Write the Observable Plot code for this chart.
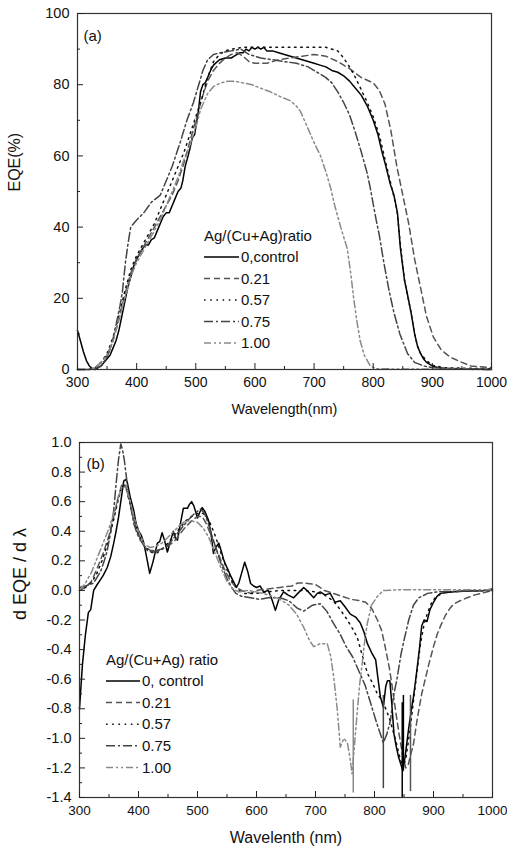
<!DOCTYPE html>
<html><head><meta charset="utf-8">
<script src="https://cdn.jsdelivr.net/npm/d3@7"></script>
<script src="https://cdn.jsdelivr.net/npm/@observablehq/plot@0.6"></script>
<style>
body{margin:0;background:#fff;}
#wrap{width:507px;}
#wrap svg{display:block;}
</style></head><body><div id="wrap"></div>
<script>
// ---------- DATA ----------
const seriesNames = ["0,control", "0.21", "0.57", "0.75", "1.00"];
const seriesNamesB = ["0, control", "0.21", "0.57", "0.75", "1.00"];
const legendTitleA = "Ag/(Cu+Ag)ratio";
const legendTitleB = "Ag/(Cu+Ag) ratio";
const xTicks = [300, 400, 500, 600, 700, 800, 900, 1000];
const xMinor = [350, 450, 550, 650, 750, 850, 950];
const yTicksA = [0, 20, 40, 60, 80, 100];
const yMinorA = [10, 30, 50, 70, 90];
const yTicksB = [-1.4, -1.2, -1.0, -0.8, -0.6, -0.4, -0.2, 0.0, 0.2, 0.4, 0.6, 0.8, 1.0];
const yMinorB = [-1.3, -1.1, -0.9, -0.7, -0.5, -0.3, -0.1, 0.1, 0.3, 0.5, 0.7, 0.9];

// (a) EQE (%) vs wavelength (nm)
const eqeControl = [[300,11],[305,8],[310,5],[315,2.5],[320,1],[325,0.2],[330,0],[335,0.5],[340,1],[345,2],[350,3],[355,4],[360,6],[365,8],[370,11],[375,15],[380,19],[385,23],[390,26],[395,29],[400,31],[405,32.5],[410,34],[415,35],[420,35],[425,36.5],[430,37],[435,39],[440,41],[445,43],[450,44],[455,44],[460,46],[465,48],[470,50],[475,51],[478,53],[482,57],[487,60],[490,62],[494,65],[498,66],[500,68],[504,72],[508,78],[512,80],[516,80.5],[520,82],[525,84],[530,85.5],[540,87],[550,87.5],[560,87.5],[565,88],[570,88.5],[575,89],[580,89],[585,90],[590,89.5],[595,90.5],[600,90],[605,90.5],[610,90],[615,90.5],[620,89.5],[630,89.5],[640,89],[650,88.5],[660,88],[670,87.5],[680,87],[690,86.5],[700,86],[710,85.5],[720,85],[730,84],[740,83.5],[750,82.5],[760,81],[770,79],[780,77],[790,74],[800,70],[808,66],[815,61],[820,58],[829,52],[835,49],[841,44],[846,34],[853,25],[858,21],[864,16],[870,10],[875,6.5],[880,4.5],[885,3],[890,2],[900,1],[910,0.5],[920,0.3],[950,0.2],[1000,0]];
const eqe021 = [[300,0],[320,0],[330,0.5],[340,2],[350,4],[360,8],[370,14],[380,21],[390,27],[400,31],[410,34],[420,37],[430,40],[440,43],[450,46],[460,49],[470,53],[480,58],[490,64],[500,70],[510,76],[520,81],[530,84],[540,86],[550,87.5],[560,88.5],[570,89],[580,88],[590,86.5],[600,86],[620,86],[640,87],[660,87.5],[680,88],[700,88.5],[720,88],[740,86.5],[760,84.5],[780,82],[800,80.5],[810,78.5],[820,74.5],[830,67],[840,57],[850,49],[860,41],[870,31],[880,23],[890,15],[902,9],[915,5.5],[931,3.4],[950,2],[965,1],[1000,0.5]];
const eqe057 = [[300,0],[320,0],[330,0.5],[340,2],[350,4.5],[360,9],[370,15],[380,22],[390,28],[400,32],[410,35],[420,38],[430,41],[440,45],[450,49],[460,53],[470,57],[480,61],[490,66],[500,71],[510,76],[520,82],[530,86.5],[540,88.5],[550,89.5],[560,90],[580,90.5],[600,90.5],[620,90.5],[640,90.5],[660,90.5],[680,90.5],[700,90.5],[720,90.5],[740,89.5],[750,87.5],[760,85],[770,82],[780,78.5],[790,75],[800,71],[810,66],[820,59],[830,52],[840,45],[846,35],[853,25],[864,16],[870,10],[875,6.5],[880,4.5],[890,2.5],[900,1.2],[920,0.5],[1000,0.2]];
const eqe075 = [[300,0],[320,0],[330,0.3],[340,1],[350,3.5],[356,6],[362,10],[367,14],[372,18],[376,22],[381,30],[386,36],[390,40],[400,42],[412,44],[425,47],[440,49],[450,53],[460,57],[474,64],[485,70],[496,75],[505,80],[512,84],[520,87],[530,88.5],[542,89],[560,89.5],[576,90],[590,88.5],[610,87.5],[630,87],[650,86.5],[670,86],[690,85],[705,83.5],[720,82],[730,80.5],[740,78],[750,75],[760,71.5],[770,66.5],[780,61],[790,55],[795,51],[805,42],[810,38],[818,30],[827,22],[835,16],[845,10],[858,4.5],[870,2],[885,1],[900,0.5],[1000,0]];
const eqe100 = [[300,0],[320,0],[330,0.5],[340,2],[350,4],[360,8],[370,14],[380,20],[390,26],[400,30],[410,33],[420,36],[430,39],[440,42],[450,46],[460,50],[470,54],[480,59],[490,63],[500,68],[508,73],[520,77.5],[530,79.5],[542,80.5],[555,81],[565,81],[580,80.5],[595,80],[610,79],[626,78],[645,76.5],[660,75.5],[670,74],[677,72.5],[685,69.5],[694,66],[702,63],[711,60],[720,55.5],[728,51],[735,46],[745,40],[756,34],[762,27],[767,20],[772,14],[778,8],[785,4],[795,1],[805,0.2],[1000,0]];

// (b) d EQE / d lambda vs wavelength (nm)
const dControl = [[300,-0.8],[305,-0.5],[310,-0.3],[315,-0.15],[319,-0.13],[324,0],[330,0.04],[335,0.07],[340,0.1],[347,0.155],[353,0.23],[358,0.32],[362,0.4],[366,0.49],[370,0.6],[375,0.74],[378,0.75],[381,0.73],[386,0.63],[392,0.54],[396,0.45],[400,0.405],[405,0.37],[409,0.32],[414,0.22],[419,0.115],[425,0.2],[432,0.32],[436,0.33],[440,0.39],[444,0.34],[449,0.26],[454,0.33],[459,0.4],[463,0.35],[466,0.34],[470,0.43],[476,0.555],[483,0.555],[486,0.58],[490,0.6],[494,0.57],[500,0.49],[504,0.53],[508,0.56],[513,0.53],[519,0.47],[523,0.38],[527,0.25],[531,0.29],[536,0.32],[540,0.27],[545,0.2],[550,0.155],[556,0.1],[561,0.06],[566,0.02],[570,0.05],[575,0.12],[580,0.19],[585,0.13],[590,0.047],[595,0.03],[600,0.02],[606,0.03],[612,-0.01],[620,0.0],[626,-0.06],[632,-0.135],[638,-0.06],[646,-0.01],[653,-0.03],[663,-0.05],[670,-0.02],[680,0.02],[688,-0.01],[697,-0.05],[703,-0.02],[708,-0.01],[716,-0.03],[725,-0.02],[733,-0.08],[742,-0.07],[750,-0.11],[759,-0.16],[768,-0.18],[776,-0.22],[782,-0.28],[788,-0.36],[795,-0.42],[802,-0.47],[806,-0.6],[810,-0.72],[815,-0.79],[819,-0.65],[822,-0.61],[826,-0.61],[829,-0.75],[833,-0.97],[837,-1.06],[841,-1.13],[845,-1.18],[848,-1.22],[852,-1.12],[858,-0.93],[862,-0.82],[866,-0.72],[870,-0.6],[876,-0.4],[880,-0.24],[884,-0.2],[889,-0.21],[894,-0.13],[900,-0.08],[906,-0.04],[912,-0.02],[920,-0.015],[929,-0.01],[950,-0.005],[985,0],[1000,0.01]];
const d021 = [[300,0],[310,0.02],[320,0.06],[330,0.15],[340,0.25],[350,0.37],[358,0.5],[365,0.62],[372,0.72],[378,0.71],[385,0.6],[392,0.48],[400,0.38],[410,0.3],[420,0.27],[430,0.27],[440,0.28],[450,0.3],[460,0.33],[470,0.38],[480,0.43],[490,0.47],[500,0.5],[508,0.5],[515,0.45],[525,0.35],[535,0.25],[545,0.15],[555,0.07],[565,0.02],[575,0],[590,-0.02],[600,0],[620,0.01],[640,0.02],[660,0.03],[670,0.05],[680,0.05],[690,0.045],[700,0.04],[715,0.0],[730,-0.02],[745,-0.04],[760,-0.06],[775,-0.07],[785,-0.08],[795,-0.12],[805,-0.2],[812,-0.27],[818,-0.38],[825,-0.52],[830,-0.65],[836,-0.82],[842,-0.98],[848,-1.12],[853,-1.2],[857,-1.18],[862,-1.1],[866,-1.04],[872,-0.88],[880,-0.7],[886,-0.6],[892,-0.5],[900,-0.38],[906,-0.3],[912,-0.24],[920,-0.17],[928,-0.12],[935,-0.09],[945,-0.07],[957,-0.05],[970,-0.03],[980,-0.02],[1000,0.0]];
const d057 = [[300,0.0],[310,0.02],[320,0.05],[330,0.12],[340,0.22],[350,0.35],[358,0.48],[365,0.6],[372,0.71],[378,0.7],[385,0.6],[392,0.48],[400,0.38],[410,0.3],[420,0.26],[430,0.25],[440,0.28],[450,0.32],[460,0.37],[470,0.42],[480,0.47],[490,0.5],[500,0.52],[510,0.52],[520,0.47],[530,0.37],[540,0.25],[550,0.14],[560,0.05],[570,0.0],[580,-0.02],[600,-0.02],[620,-0.01],[640,0.0],[660,0.0],[680,0.0],[700,-0.01],[715,-0.03],[730,-0.07],[742,-0.13],[754,-0.2],[763,-0.26],[771,-0.32],[780,-0.45],[788,-0.56],[797,-0.63],[805,-0.7],[815,-0.76],[825,-0.86],[835,-1.0],[843,-1.13],[848,-1.2],[853,-1.14],[860,-0.95],[866,-0.75],[872,-0.55],[878,-0.36],[884,-0.23],[890,-0.15],[897,-0.08],[905,-0.04],[920,-0.01],[1000,0]];
const d075 = [[300,0.02],[310,0.03],[318,0.04],[324,0.05],[330,0.09],[336,0.13],[342,0.2],[347,0.27],[353,0.4],[358,0.54],[362,0.72],[366,0.88],[370,0.99],[373,0.95],[376,0.88],[380,0.75],[383,0.65],[388,0.54],[392,0.45],[398,0.38],[403,0.34],[410,0.3],[415,0.27],[425,0.26],[435,0.27],[445,0.29],[455,0.33],[465,0.38],[475,0.43],[485,0.48],[495,0.52],[505,0.55],[512,0.52],[520,0.43],[530,0.3],[540,0.18],[550,0.08],[558,0.02],[565,-0.02],[575,-0.04],[590,-0.05],[605,-0.06],[620,-0.05],[640,-0.05],[655,-0.07],[669,-0.12],[680,-0.14],[695,-0.1],[708,-0.09],[719,-0.14],[730,-0.22],[741,-0.29],[752,-0.38],[763,-0.45],[774,-0.55],[784,-0.64],[794,-0.77],[804,-0.9],[810,-0.97],[815,-1.03],[821,-0.97],[827,-0.88],[832,-0.72],[838,-0.6],[845,-0.43],[851,-0.32],[858,-0.2],[866,-0.1],[875,-0.05],[890,-0.02],[905,-0.01],[1000,0.0]];
const d100 = [[300,0.0],[310,0.05],[320,0.12],[330,0.22],[340,0.32],[350,0.42],[358,0.52],[365,0.62],[372,0.7],[378,0.7],[385,0.62],[392,0.5],[400,0.4],[410,0.31],[420,0.29],[430,0.3],[440,0.32],[450,0.36],[460,0.4],[470,0.44],[480,0.47],[490,0.47],[500,0.46],[510,0.42],[520,0.35],[530,0.25],[540,0.15],[550,0.06],[560,0.01],[570,-0.01],[585,0.0],[600,-0.01],[620,-0.03],[640,-0.06],[655,-0.1],[668,-0.16],[680,-0.25],[690,-0.34],[697,-0.38],[708,-0.36],[720,-0.36],[726,-0.45],[731,-0.59],[737,-0.81],[742,-1.06],[748,-1.0],[754,-1.03],[758,-1.12],[762,-1.24],[766,-1.05],[771,-0.81],[775,-0.63],[779,-0.5],[784,-0.32],[788,-0.22],[795,-0.1],[805,-0.04],[815,0.0],[850,0.005],[900,0.005],[1000,0.005]];

// sharp spikes in (b)
const spikeX = [764, 815, 847, 849, 861];
const spikeLow = [-1.37, -1.34, -1.40, -1.22, -1.36];
const spikeHigh = [-0.74, -0.71, -0.76, -0.71, -0.71];
const spikeSeries = [4, 3, 0, 0, 1];

// ---------- STYLES ----------
const strokes = ["#000", "#555", "#111", "#444", "#8a8a8a"];
const dashes = [null, "6,4", "1.6,4.6", "9,3,2,3", "7,3,2,3,2,3"];
const FONT = "'Liberation Sans', Arial, sans-serif";

function seriesMarks(arrs) {
  return arrs.map((arr, i) => Plot.line(arr, {
    x: d => d[0], y: d => d[1], stroke: strokes[i], strokeWidth: 1.5,
    strokeDasharray: dashes[i], strokeLinejoin: "round"
  }));
}

function tickMarks(W, H, mL, mR, mT, mB, xMaj, xMin, yMaj, yMin) {
  const pw = W - mL - mR, ph = H - mT - mB;
  return [
    Plot.tickX(xMaj, {x: d => d, insetTop: ph - 6, stroke: "#222", strokeWidth: 1}),
    Plot.tickX(xMin, {x: d => d, insetTop: ph - 3, stroke: "#222", strokeWidth: 1}),
    Plot.tickY(yMaj, {y: d => d, insetRight: pw - 6, stroke: "#222", strokeWidth: 1}),
    Plot.tickY(yMin, {y: d => d, insetRight: pw - 3, stroke: "#222", strokeWidth: 1})
  ];
}

function addLegend(svg, x0, yTitle, yStart, step, title, names, fs, lineLen) {
  const g = d3.select(svg).append("g").attr("font-family", FONT).attr("font-size", fs)
    .attr("fill", "#111").attr("text-anchor", "start");
  g.append("text").attr("x", x0).attr("y", yTitle).attr("dy", "0.35em").text(title);
  names.forEach((n, i) => {
    const y = yStart + i * step;
    g.append("line").attr("x1", x0).attr("x2", x0 + lineLen).attr("y1", y).attr("y2", y)
      .attr("stroke", strokes[i]).attr("stroke-width", 1.5)
      .attr("stroke-dasharray", dashes[i]);
    g.append("text").attr("x", x0 + lineLen + 2).attr("y", y).attr("dy", "0.35em").text(n);
  });
}

// ---------- PANEL A ----------
const WA = 507, HA = 430, mLA = 77, mRA = 16, mTA = 13, mBA = 61;
const chartA = Plot.plot({
  width: WA, height: HA, marginLeft: mLA, marginRight: mRA, marginTop: mTA, marginBottom: mBA,
  style: {fontFamily: FONT, fontSize: "14px", color: "#111", background: "#fff", overflow: "visible"},
  x: {domain: [300, 1000]},
  y: {domain: [0, 100]},
  marks: [
    ...seriesMarks([eqeControl, eqe021, eqe057, eqe075, eqe100]),
    Plot.frame({stroke: "#333", strokeWidth: 1.2}),
    ...tickMarks(WA, HA, mLA, mRA, mTA, mBA, xTicks, xMinor, yTicksA, yMinorA),
    Plot.axisX(xTicks, {tickSize: 0, tickPadding: 8, label: null, fontSize: 14, tickFormat: d => String(d)}),
    Plot.axisY(yTicksA, {tickSize: 0, tickPadding: 8, label: null, fontSize: 14.5, tickFormat: d => String(d)}),
    Plot.text(["Wavelength(nm)"], {text: d => d, frameAnchor: "bottom", dy: 44, fontSize: 14.5}),
    Plot.text(["EQE(%)"], {text: d => d, frameAnchor: "left", dx: -63, rotate: -90, fontSize: 16}),
    Plot.text(["(a)"], {text: d => d, frameAnchor: "top-left", dx: 6, dy: 17, textAnchor: "start", fontSize: 15})
  ]
});
addLegend(chartA, 204, 236, 257, 21.5, legendTitleA, seriesNames, 15, 35);

// ---------- PANEL B ----------
const WB = 507, HB = 425, mLB = 79, mRB = 15, mTB = 12, mBB = 58;
const spikes = spikeX.map((x, i) => ({x, y1: spikeLow[i], y2: spikeHigh[i], s: spikeSeries[i]}));
const chartB = Plot.plot({
  width: WB, height: HB, marginLeft: mLB, marginRight: mRB, marginTop: mTB, marginBottom: mBB,
  style: {fontFamily: FONT, fontSize: "14px", color: "#111", background: "#fff", overflow: "visible"},
  x: {domain: [300, 1000]},
  y: {domain: [-1.4, 1.0]},
  marks: [
    ...seriesMarks([dControl, d021, d057, d075, d100]),
    Plot.ruleX(spikes, {x: "x", y1: "y1", y2: "y2", stroke: d => strokes[d.s], strokeWidth: 1.5}),
    Plot.frame({stroke: "#333", strokeWidth: 1.2}),
    ...tickMarks(WB, HB, mLB, mRB, mTB, mBB, xTicks, xMinor, yTicksB, yMinorB),
    Plot.axisX(xTicks, {tickSize: 0, tickPadding: 8, label: null, fontSize: 13.5, tickFormat: d => String(d)}),
    Plot.axisY(yTicksB, {tickSize: 0, tickPadding: 8, label: null, fontSize: 14.5, tickFormat: d => d.toFixed(1)}),
    Plot.text(["Wavelenth (nm)"], {text: d => d, frameAnchor: "bottom", dy: 45, fontSize: 16}),
    Plot.text(["d EQE / d \u03bb"], {text: d => d, frameAnchor: "left", dx: -59, rotate: -90, fontSize: 18}),
    Plot.text(["(b)"], {text: d => d, frameAnchor: "top-left", dx: 7, dy: 16, textAnchor: "start", fontSize: 15})
  ]
});
addLegend(chartB, 106, 230, 251, 21.6, legendTitleB, seriesNamesB, 15, 34);

document.getElementById("wrap").append(chartA, chartB);
</script>
</body></html>
